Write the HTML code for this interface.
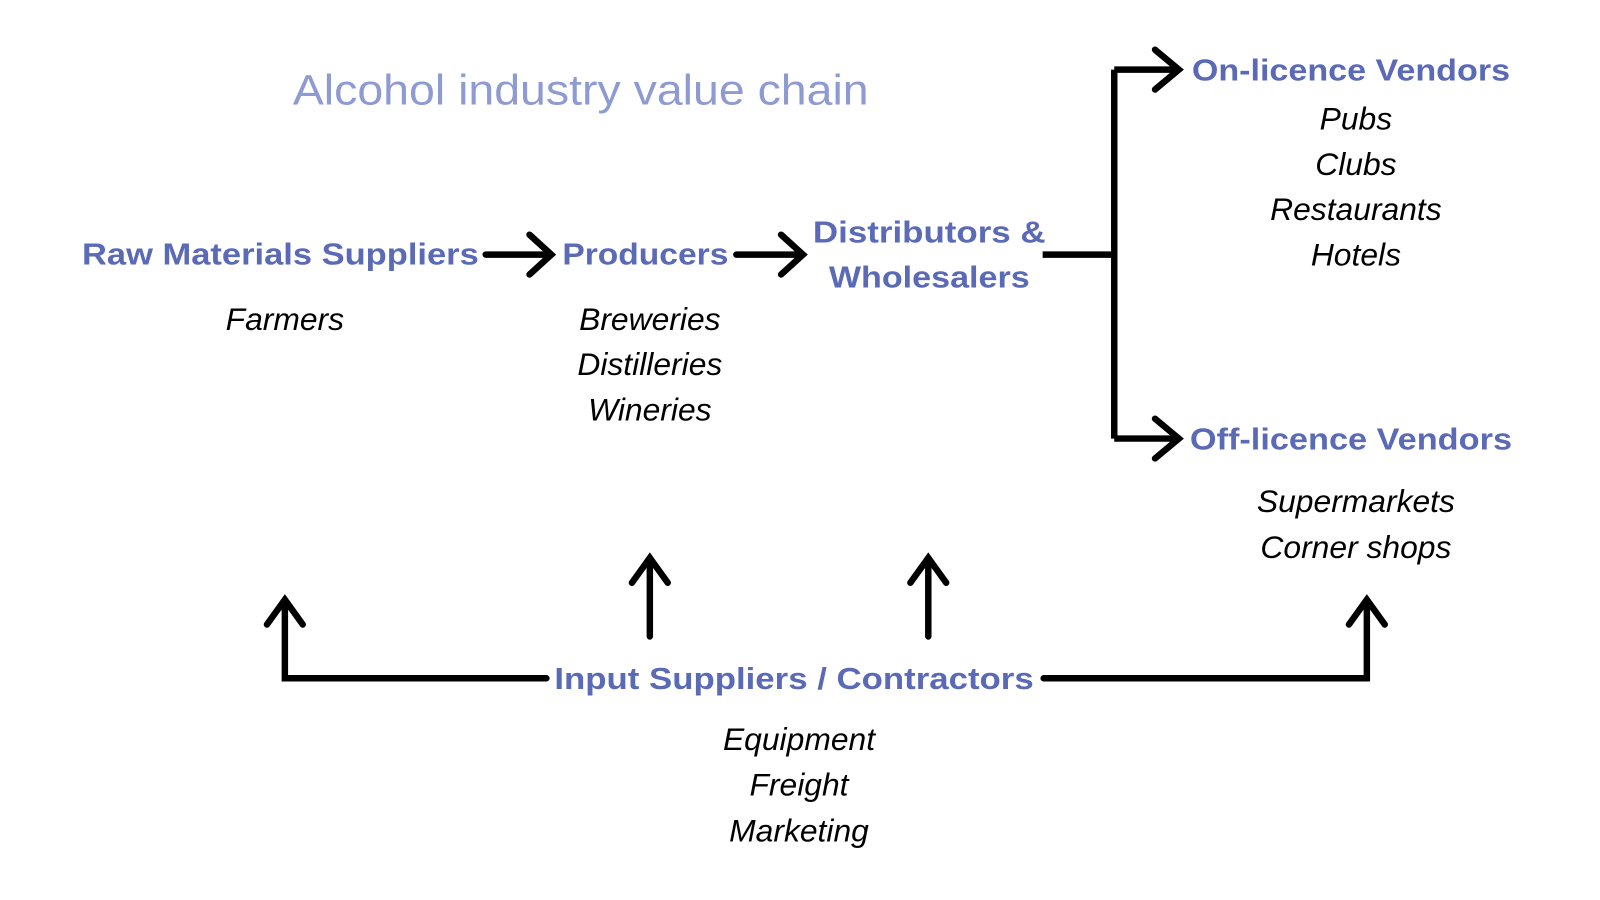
<!DOCTYPE html>
<html><head><meta charset="utf-8"><style>
html,body{margin:0;padding:0;background:#fff;}
svg{display:block;}
.b{font-family:"Liberation Sans",sans-serif;font-weight:bold;fill:#5b6ab6;font-size:31px;}
.i{font-family:"Liberation Sans",sans-serif;font-style:italic;fill:#000;font-size:32px;text-anchor:middle;}
.t{font-family:"Liberation Sans",sans-serif;fill:#8e9ad2;font-size:43px;}
</style></head><body>
<svg width="1600" height="900" viewBox="0 0 1608 905" xmlns="http://www.w3.org/2000/svg">
<text class="t" x="294" y="105" textLength="579" lengthAdjust="spacingAndGlyphs">Alcohol industry value chain</text>

<text class="b" x="82" y="266" textLength="399" lengthAdjust="spacingAndGlyphs">Raw Materials Suppliers</text>
<text class="b" x="565" y="266" textLength="167" lengthAdjust="spacingAndGlyphs">Producers</text>
<text class="b" x="817" y="244" textLength="234" lengthAdjust="spacingAndGlyphs">Distributors &amp;</text>
<text class="b" x="833" y="289" textLength="202" lengthAdjust="spacingAndGlyphs">Wholesalers</text>
<text class="b" x="1198" y="81" textLength="320" lengthAdjust="spacingAndGlyphs">On-licence Vendors</text>
<text class="b" x="1196" y="452" textLength="324" lengthAdjust="spacingAndGlyphs">Off-licence Vendors</text>
<text class="b" x="557" y="693" textLength="482" lengthAdjust="spacingAndGlyphs">Input Suppliers / Contractors</text>

<text class="i" x="286" y="332">Farmers</text>
<text class="i" x="653" y="332">Breweries</text>
<text class="i" x="653" y="377">Distilleries</text>
<text class="i" x="653" y="423">Wineries</text>
<text class="i" x="1363" y="130">Pubs</text>
<text class="i" x="1363" y="176">Clubs</text>
<text class="i" x="1363" y="221">Restaurants</text>
<text class="i" x="1363" y="267">Hotels</text>
<text class="i" x="1363" y="515">Supermarkets</text>
<text class="i" x="1363" y="561">Corner shops</text>
<text class="i" x="803" y="754">Equipment</text>
<text class="i" x="803" y="800">Freight</text>
<text class="i" x="803" y="846">Marketing</text>

<g fill="none" stroke="#000" stroke-width="6.5" stroke-linecap="round" stroke-linejoin="miter">
<path d="M488 256 H554 M532 236 L554 256 L532 276"/>
<path d="M740 256 H807 M785 236 L807 256 L785 276"/>
<path d="M1048 256 H1120 M1120 70 V441 M1120 70 H1185 M1120 441 H1185" stroke-linecap="butt"/>
<path d="M1161 50 L1185 70 L1161 90 M1161 421 L1185 441 L1161 461"/>
<path d="M549 682 H286 V603 M268 628 L286 603 L304 628"/>
<path d="M653 640 V561 M635 586 L653 561 L671 586"/>
<path d="M933 640 V561 M915 586 L933 561 L951 586"/>
<path d="M1049 682 H1374 V603 M1356 628 L1374 603 L1392 628"/>
</g>
</svg>
</body></html>
